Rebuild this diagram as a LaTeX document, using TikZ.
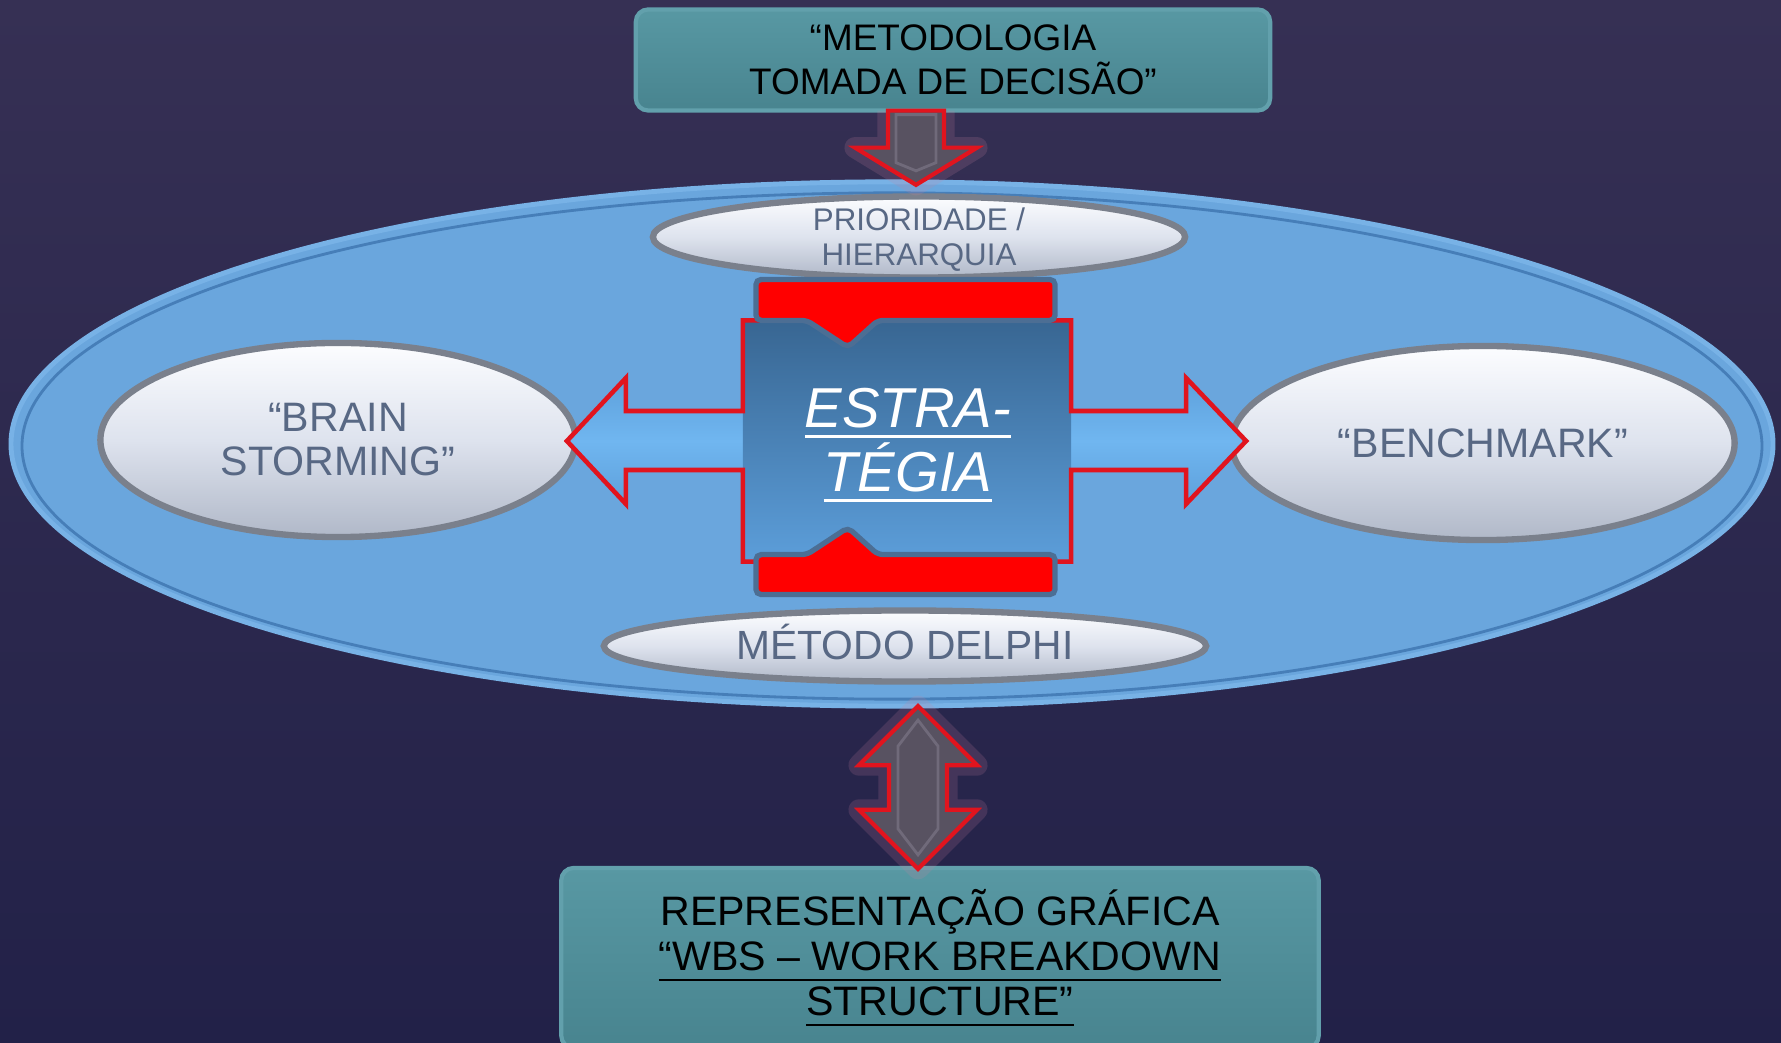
\documentclass[tikz,border=0pt]{standalone}
\usepackage{fontspec}
\setmainfont{Liberation Sans}
\usepackage{tikz}
\usetikzlibrary{positioning, calc, shapes.geometric}
\definecolor{bgtop}{RGB}{54,48,84}
\definecolor{bgbottom}{RGB}{34,33,72}
\definecolor{tealtop}{RGB}{88,152,163}
\definecolor{tealfill}{RGB}{72,132,143}
\definecolor{tealrim}{RGB}{98,160,172}
\definecolor{ovalfill}{RGB}{106,166,221}
\definecolor{ovalrim}{RGB}{70,126,184}
\definecolor{ovalshine}{RGB}{120,178,230}
\definecolor{pilltop}{RGB}{252,253,255}
\definecolor{pillmid}{RGB}{222,227,238}
\definecolor{pillbottom}{RGB}{176,184,200}
\definecolor{pillrim}{RGB}{122,128,140}
\definecolor{pilltext}{RGB}{88,104,132}
\definecolor{coredark}{RGB}{56,102,146}
\definecolor{corelight}{RGB}{92,158,218}
\definecolor{armdark}{RGB}{76,140,200}
\definecolor{armlight}{RGB}{112,182,240}
\definecolor{barrim}{RGB}{76,110,148}
\definecolor{arrowgrey}{RGB}{88,82,97}
\definecolor{arrowinner}{RGB}{112,106,122}
\definecolor{glowpink}{RGB}{205,130,160}
\definecolor{outlinered}{RGB}{225,20,30}
\newcommand{\ulinetext}[2][0.9pt]{\leavevmode\setbox0\hbox{#2}\rlap{\rule[-3pt]{\wd0}{#1}}\box0}
\tikzset{
    tealbox/.style={
        rectangle,
        rounded corners=3.5pt,
        draw=tealrim,
        line width=1.2pt,
        top color=tealtop,
        bottom color=tealfill,
        text=black,
        align=center,
        inner sep=0pt
    },
    oval/.style={
        ellipse,
        fill=ovalfill,
        draw=ovalshine,
        line width=1.4pt,
        inner sep=0pt,
        outer sep=0pt
    },
    ovalline/.style={
        ellipse,
        draw=ovalrim,
        line width=0.8pt,
        inner sep=0pt
    },
    pill/.style={
        ellipse,
        top color=pilltop,
        bottom color=pillbottom,
        middle color=pillmid,
        draw=pillrim,
        line width=1.8pt,
        inner sep=0pt,
        outer sep=0pt
    },
    pilllabel/.style={
        text=pilltext,
        align=center,
        inner sep=0pt
    },
    corebox/.style={
        rectangle,
        inner sep=0pt,
        outer sep=0pt,
        minimum width=3.28cm,
        minimum height=2.41cm
    },
    corelabel/.style={
        text=white,
        align=center,
        inner sep=0pt,
        font=\fontsize{16}{18.2}\selectfont\itshape
    },
    arms/.style={
        top color=armdark,
        bottom color=armdark,
        middle color=armlight
    },
    corefill/.style={
        top color=coredark,
        bottom color=corelight
    },
    crossline/.style={
        draw=outlinered,
        line width=1.3pt,
        line join=miter
    },
    redbar/.style={
        fill=red,
        draw=barrim,
        line width=1.5pt,
        rounded corners=1.5pt
    },
    greyarrow/.style={
        fill=arrowgrey,
        draw=outlinered,
        line width=1.2pt,
        line join=miter
    },
    arrowglow/.style={
        draw=glowpink,
        line width=6pt,
        opacity=0.18,
        line join=round
    },
    arrowbevel/.style={
        draw=arrowinner,
        line width=0.8pt
    }
}
\begin{document}
\begin{tikzpicture}[x=0.01cm, y=-0.01cm]

% Frame
\useasboundingbox (0,0) rectangle (1781,1043);
\clip (0,0) rectangle (1781,1043);
\fill[top color=bgtop, bottom color=bgbottom] (0,0) rectangle (1781,1043);

% Main oval
\node[oval, minimum width=17.61cm, minimum height=5.24cm] (oval) at (892,444) {};
\node[ovalline, minimum width=17.39cm, minimum height=5.06cm] (ovalrim) at (892,446) {};

% Satellite pills
\node[pill, minimum width=5.32cm, minimum height=0.81cm] (prio) at (919,237) {};
\node[pill, minimum width=4.75cm, minimum height=1.94cm] (brain) at (338,440) {};
\node[pill, minimum width=5.03cm, minimum height=1.94cm] (bench) at (1483,443) {};
\node[pill, minimum width=6.02cm, minimum height=0.71cm] (delphi) at (905,646) {};

\node[pilllabel, font=\fontsize{8.9}{10}\selectfont] (priotext) at ($(prio)+(0,3)$) {PRIORIDADE /\\HIERARQUIA};
\node[pilllabel, font=\fontsize{11.7}{12.5}\selectfont] (braintext) at (brain) {“BRAIN\\STORMING”};
\node[pilllabel, font=\fontsize{11.7}{12.5}\selectfont] (benchtext) at (bench) {“BENCHMARK”};
\node[pilllabel, font=\fontsize{11.6}{12.5}\selectfont] (delphitext) at ($(delphi)+(0,-4)$) {MÉTODO DELPHI};

% Central cross
\node[corebox] (core) at (907,441) {};
\path[arms] (core.north west) -- ($(core.west)+(0,-30)$) -- ($(core.west)+(-117,-30)$)
    -- ($(core.west)+(-117,-63)$) -- ($(core.west)+(-176,0)$) -- ($(core.west)+(-117,63)$)
    -- ($(core.west)+(-117,29)$) -- ($(core.west)+(0,29)$) -- (core.south west)
    -- (core.south east) -- ($(core.east)+(0,29)$) -- ($(core.east)+(115,29)$)
    -- ($(core.east)+(115,63)$) -- ($(core.east)+(175,0)$) -- ($(core.east)+(115,-63)$)
    -- ($(core.east)+(115,-30)$) -- ($(core.east)+(0,-30)$) -- (core.north east) -- cycle;
\path[corefill] (core.north west) rectangle (core.south east);
\path[crossline] (core.north west) -- ($(core.west)+(0,-30)$) -- ($(core.west)+(-117,-30)$)
    -- ($(core.west)+(-117,-63)$) -- ($(core.west)+(-176,0)$) -- ($(core.west)+(-117,63)$)
    -- ($(core.west)+(-117,29)$) -- ($(core.west)+(0,29)$) -- (core.south west)
    -- (core.south east) -- ($(core.east)+(0,29)$) -- ($(core.east)+(115,29)$)
    -- ($(core.east)+(115,63)$) -- ($(core.east)+(175,0)$) -- ($(core.east)+(115,-63)$)
    -- ($(core.east)+(115,-30)$) -- ($(core.east)+(0,-30)$) -- (core.north east) -- cycle;

% Red bars
\draw[redbar] ($(core.north west)+(13,-41)$) -- ($(core.north east)+(-16,-41)$)
    -- ($(core.north east)+(-16,0)$) -- ($(core.north west)+(135,0)$)
    -- ($(core.north west)+(105,27)$) -- ($(core.north west)+(64,0)$)
    -- ($(core.north west)+(13,0)$) -- cycle;
\draw[redbar] ($(core.south west)+(13,33)$) -- ($(core.south east)+(-16,33)$)
    -- ($(core.south east)+(-16,-7)$) -- ($(core.south west)+(135,-7)$)
    -- ($(core.south west)+(105,-34)$) -- ($(core.south west)+(64,-7)$)
    -- ($(core.south west)+(13,-7)$) -- cycle;

\node[corelabel] (estra) at (908,445) {\ulinetext{ESTRA-}\\\ulinetext{TÉGIA}};

% Boxes
\node[tealbox, minimum width=6.34cm, minimum height=1.01cm,
      font=\fontsize{10.5}{12.5}\selectfont] (method) at (953,60)
      {“METODOLOGIA\\TOMADA DE DECISÃO”};
\node[tealbox, minimum width=7.57cm, minimum height=1.8cm,
      font=\fontsize{11.7}{12.8}\selectfont] (wbs) at (940,958)
      {REPRESENTAÇÃO GRÁFICA\\\ulinetext[0.6pt]{“WBS – WORK BREAKDOWN}\\\ulinetext[0.6pt]{STRUCTURE”}};

% Arrows
\coordinate (dsrc) at ($(method.south)+(-37,-2)$);
\coordinate (dtip) at ($(oval.north)+(24,3)$);
\draw[arrowglow] ($(dsrc)+(-28,0)$) -- ($(dsrc)+(-28,37)$) -- ($(dsrc)+(-61,37)$) -- (dtip)
    -- ($(dsrc)+(61,37)$) -- ($(dsrc)+(28,37)$) -- ($(dsrc)+(28,0)$);
\draw[greyarrow] ($(dsrc)+(-28,0)$) -- ($(dsrc)+(-28,37)$) -- ($(dsrc)+(-61,37)$) -- (dtip)
    -- ($(dsrc)+(61,37)$) -- ($(dsrc)+(28,37)$) -- ($(dsrc)+(28,0)$) -- cycle;
\draw[arrowbevel] ($(dsrc)+(-20,4)$) -- ($(dsrc)+(-20,52)$) -- ($(dtip)+(0,-14)$)
    -- ($(dsrc)+(20,52)$) -- ($(dsrc)+(20,4)$) -- cycle;

\coordinate (utip) at ($(oval.south)+(26,0)$);
\coordinate (ltip) at ($(wbs.north)+(-22,3)$);
\draw[arrowglow] (utip) -- ($(utip)+(59,59)$) -- ($(utip)+(29,59)$) -- ($(ltip)+(29,-59)$)
    -- ($(ltip)+(59,-59)$) -- (ltip) -- ($(ltip)+(-59,-59)$) -- ($(ltip)+(-29,-59)$)
    -- ($(utip)+(-29,59)$) -- ($(utip)+(-59,59)$) -- cycle;
\draw[greyarrow] (utip) -- ($(utip)+(59,59)$) -- ($(utip)+(29,59)$) -- ($(ltip)+(29,-59)$)
    -- ($(ltip)+(59,-59)$) -- (ltip) -- ($(ltip)+(-59,-59)$) -- ($(ltip)+(-29,-59)$)
    -- ($(utip)+(-29,59)$) -- ($(utip)+(-59,59)$) -- cycle;
\draw[arrowbevel] ($(utip)+(0,14)$) -- ($(utip)+(20,40)$) -- ($(ltip)+(20,-40)$)
    -- ($(ltip)+(0,-14)$) -- ($(ltip)+(-20,-40)$) -- ($(utip)+(-20,40)$) -- cycle;

\end{tikzpicture}
\end{document}
